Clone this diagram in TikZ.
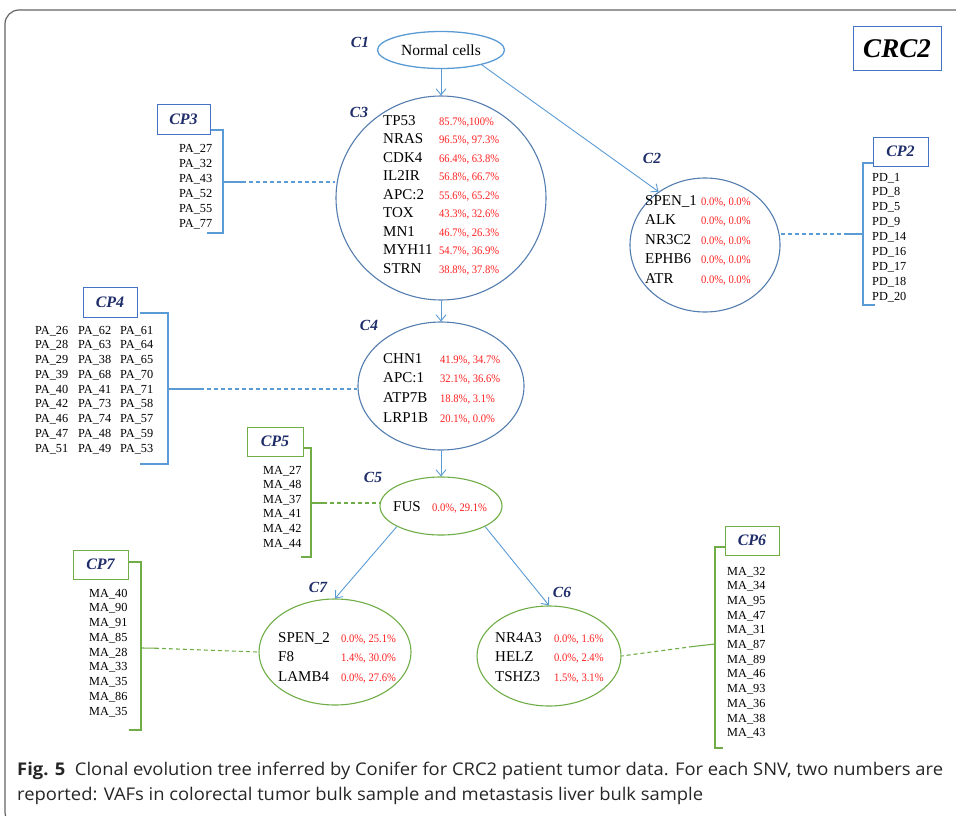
\documentclass[tikz,border=0pt]{standalone}
\usepackage{fontspec}
\setmainfont{Liberation Serif}
\newfontfamily\capfont[FakeStretch=1.05]{Open Sans}
\newfontfamily\numfont[FakeStretch=0.92]{Liberation Serif}
\usetikzlibrary{shapes.geometric,arrows.meta}

\definecolor{linkblue}{RGB}{91,155,213}
\definecolor{ringblue}{RGB}{84,125,175}
\definecolor{boxblue}{RGB}{68,114,196}
\definecolor{clonegreen}{RGB}{112,173,71}
\definecolor{labelnavy}{RGB}{31,45,105}
\definecolor{vafred}{RGB}{255,30,30}
\definecolor{framegray}{RGB}{100,100,100}

% VAF pair in a clone circle
\newcommand{\vaf}[1]{{\numfont\fontsize{11.5}{12}\selectfont\color{vafred}#1}}

\tikzset{
  link/.style={draw=linkblue, line width=0.9pt, -{Straight Barb[length=6pt,width=10pt]}},
  bluering/.style={ellipse, draw=ringblue, line width=1.1pt, inner sep=0pt},
  greenring/.style={ellipse, draw=clonegreen, line width=1.1pt, inner sep=0pt},
  clabel/.style={font=\fontsize{15.5}{16}\selectfont\bfseries\itshape, text=labelnavy, inner sep=0pt},
  cpbox/.style={draw=#1, line width=1pt, minimum width=54pt, minimum height=29pt, inner sep=0pt,
    font=\fontsize{16}{17}\selectfont\bfseries\itshape, text=labelnavy},
  genes/.style={font=\fontsize{15}{#1}\selectfont, inner sep=0pt, anchor=base west},
  samples/.style={font=\fontsize{12.3}{#1}\selectfont, inner sep=0pt, anchor=base west},
  bracketblue/.style={draw=linkblue, line width=1.1pt},
  bracketgreen/.style={draw=clonegreen, line width=1.1pt},
  dashblue/.style={draw=linkblue, line width=1.1pt, dash pattern=on 4pt off 3pt},
  dashgreen/.style={draw=clonegreen, line width=1.1pt, dash pattern=on 4pt off 3pt},
  captext/.style={anchor=base west, inner sep=0pt, text=black!85, font=\capfont\fontsize{17.5}{20}\selectfont},
}

\begin{document}
\begin{tikzpicture}[x=1pt,y=-1pt]
\useasboundingbox (0,0) rectangle (956,816);

% outer frame
\draw[framegray, line width=1.2pt, rounded corners=14pt] (975,10) -- (5,10) -- (5,826) -- (60,826);

% title box
\node[draw=boxblue, line width=1pt, minimum width=88pt, minimum height=44pt, inner sep=0pt,
  font=\fontsize{27}{28}\selectfont\bfseries\itshape] (crc) at (897,49) {CRC2};

% clones
\node[ellipse, draw=linkblue, line width=1.3pt, minimum width=127pt, minimum height=37pt, inner sep=0pt,
  font=\fontsize{15.5}{16}\selectfont] (C1) at (441,50) {Normal cells};
\node[bluering, minimum width=210pt, minimum height=204pt] (C3) at (441,198) {};
\node[bluering, minimum width=150pt, minimum height=134pt] (C2) at (705,245) {};
\node[bluering, minimum width=166pt, minimum height=128pt] (C4) at (441,386) {};
\node[greenring, minimum width=122pt, minimum height=58pt] (C5) at (441,506) {};
\node[greenring, minimum width=152pt, minimum height=106pt] (C7) at (335,652) {};
\node[greenring, minimum width=144pt, minimum height=100pt] (C6) at (549,656) {};

% clone labels
\node[clabel] (L1) at (360,42) {C1};
\node[clabel] (L3) at (359,112) {C3};
\node[clabel] (L2) at (652,158) {C2};
\node[clabel] (L4) at (369,325) {C4};
\node[clabel] (L5) at (373,477) {C5};
\node[clabel] (L7) at (318,587) {C7};
\node[clabel] (L6) at (562,592) {C6};

% mutations of each clone
\node[genes=18.5] (G3) at (383,125) {\begin{tabular}[t]{@{}p{56pt}@{}l@{}}
TP53 & \vaf{85.7\%,100\%}\\
NRAS & \vaf{96.5\%, 97.3\%}\\
CDK4 & \vaf{66.4\%, 63.8\%}\\
IL2IR & \vaf{56.8\%, 66.7\%}\\
APC:2 & \vaf{55.6\%, 65.2\%}\\
TOX & \vaf{43.3\%, 32.6\%}\\
MN1 & \vaf{46.7\%, 26.3\%}\\
MYH11 & \vaf{54.7\%, 36.9\%}\\
STRN & \vaf{38.8\%, 37.8\%}
\end{tabular}};

\node[genes=19.5] (G2) at (645,205) {\begin{tabular}[t]{@{}p{56pt}@{}l@{}}
SPEN\_1 & \vaf{0.0\%, 0.0\%}\\
ALK & \vaf{0.0\%, 0.0\%}\\
NR3C2 & \vaf{0.0\%, 0.0\%}\\
EPHB6 & \vaf{0.0\%, 0.0\%}\\
ATR & \vaf{0.0\%, 0.0\%}
\end{tabular}};

\node[genes=19.7] (G4) at (383,363) {\begin{tabular}[t]{@{}p{57pt}@{}l@{}}
CHN1 & \vaf{41.9\%, 34.7\%}\\
APC:1 & \vaf{32.1\%, 36.6\%}\\
ATP7B & \vaf{18.8\%, 3.1\%}\\
LRP1B & \vaf{20.1\%, 0.0\%}
\end{tabular}};

\node[genes=19.5] (G5) at (393,511) {\begin{tabular}[t]{@{}p{39pt}@{}l@{}}
FUS & \vaf{0.0\%, 29.1\%}
\end{tabular}};

\node[genes=19.5] (G7) at (278,642) {\begin{tabular}[t]{@{}p{63pt}@{}l@{}}
SPEN\_2 & \vaf{0.0\%, 25.1\%}\\
F8 & \vaf{1.4\%, 30.0\%}\\
LAMB4 & \vaf{0.0\%, 27.6\%}
\end{tabular}};

\node[genes=19.5] (G6) at (495,642) {\begin{tabular}[t]{@{}p{59pt}@{}l@{}}
NR4A3 & \vaf{0.0\%, 1.6\%}\\
HELZ & \vaf{0.0\%, 2.4\%}\\
TSHZ3 & \vaf{1.5\%, 3.1\%}
\end{tabular}};

% tree edges
\draw[link] (C1.south) -- (C3.north);
\draw[link] (C1.-20) -- (C2.131);
\draw[link] (C3.south) -- (C4.north);
\draw[link] (C4.south) -- (C5.north);
\draw[link] (C5.205) -- (C7.north);
\draw[link] (C5.335) -- (C6.north);

% sample groups
\node[cpbox=boxblue, minimum width=53pt, minimum height=30pt] (P3) at (183.5,119) {CP3};
\node[cpbox=boxblue, minimum width=55pt] (P2) at (900.5,151.5) {CP2};
\node[cpbox=boxblue, minimum height=30pt] (P4) at (110,302) {CP4};
\node[cpbox=clonegreen, minimum width=56pt] (P5) at (275,441.5) {CP5};
\node[cpbox=clonegreen, minimum width=55pt] (P7) at (100.5,564.5) {CP7};
\node[cpbox=clonegreen] (P6) at (752,540.5) {CP6};

\node[samples=15] (S3) at (179,152) {\begin{tabular}[t]{@{}l@{}}
PA\_27\\ PA\_32\\ PA\_43\\ PA\_52\\ PA\_55\\ PA\_77
\end{tabular}};

\node[samples=14.9] (S2) at (872,181) {\begin{tabular}[t]{@{}l@{}}
PD\_1\\ PD\_8\\ PD\_5\\ PD\_9\\ PD\_14\\ PD\_16\\ PD\_17\\ PD\_18\\ PD\_20
\end{tabular}};

\node[samples=14.75] (S4) at (35,334) {\begin{tabular}[t]{@{}p{43pt}@{}p{42pt}@{}l@{}}
PA\_26 & PA\_62 & PA\_61\\
PA\_28 & PA\_63 & PA\_64\\
PA\_29 & PA\_38 & PA\_65\\
PA\_39 & PA\_68 & PA\_70\\
PA\_40 & PA\_41 & PA\_71\\
PA\_42 & PA\_73 & PA\_58\\
PA\_46 & PA\_74 & PA\_57\\
PA\_47 & PA\_48 & PA\_59\\
PA\_51 & PA\_49 & PA\_53
\end{tabular}};

\node[samples=14.6] (S5) at (263,474) {\begin{tabular}[t]{@{}l@{}}
MA\_27\\ MA\_48\\ MA\_37\\ MA\_41\\ MA\_42\\ MA\_44
\end{tabular}};

\node[samples=14.75] (S7) at (89,597) {\begin{tabular}[t]{@{}l@{}}
MA\_40\\ MA\_90\\ MA\_91\\ MA\_85\\ MA\_28\\ MA\_33\\ MA\_35\\ MA\_86\\ MA\_35
\end{tabular}};

\node[samples=14.7] (S6) at (727,575) {\begin{tabular}[t]{@{}l@{}}
MA\_32\\ MA\_34\\ MA\_95\\ MA\_47\\ MA\_31\\ MA\_87\\ MA\_89\\ MA\_46\\ MA\_93\\ MA\_36\\ MA\_38\\ MA\_43
\end{tabular}};

% brackets round the sample lists
\draw[bracketblue] (P3.east |- 0,130) -- (223,130) -- (223,233) -- (207,233);
\draw[bracketblue] (P2.west |- 0,163) -- (863,163) -- (863,305) -- (875,305);
\draw[bracketblue] (140,313) -- (168,313) -- (168,464) -- (140,464);
\draw[bracketgreen] (P5.east |- 0,448) -- (311,448) -- (311,557) -- (301,557);
\draw[bracketgreen] (P7.east |- 0,562) -- (141,562) -- (141,730) -- (129,730);
\draw[bracketgreen] (P6.west |- 0,547) -- (715,547) -- (715,748) -- (723,748);

% links from sample groups to clones
\coordinate (k3) at (223,182);
\coordinate (k3d) at (242,182);
\draw[bracketblue] (k3) -- (k3d);
\draw[dashblue] (k3d) -- (k3d -| C3.west);

\coordinate (k2) at (863,234);
\coordinate (k2d) at (848,234);
\draw[bracketblue] (k2) -- (k2d);
\draw[dashblue] (k2d) -- (k2d -| C2.east);

\coordinate (k4) at (168,389);
\coordinate (k4d) at (200,389);
\draw[bracketblue] (k4) -- (k4d);
\draw[dashblue] (k4d) -- (k4d -| C4.west);

\coordinate (k5) at (311,503);
\coordinate (k5d) at (323,503);
\draw[bracketgreen] (k5) -- (k5d);
\draw[dashgreen] (k5d) -- (k5d -| C5.west);

\coordinate (k7) at (141,648);
\coordinate (k7d) at (155,648.2);
\draw[bracketgreen] (k7) -- (k7d);
\draw[dashgreen] (k7d) -- (C7.west);

\coordinate (k6) at (715,644);
\coordinate (k6d) at (693,646.5);
\draw[bracketgreen] (k6) -- (k6d);
\draw[dashgreen] (k6d) -- (C6.east);

% caption
\node[captext] (cap1) at (17,775)
  {\textbf{Fig. 5}\hspace{0.55em}Clonal evolution tree inferred by Conifer for CRC2 patient tumor data. For each SNV, two numbers are};
\node[captext] (cap2) at (17,800)
  {reported: VAFs in colorectal tumor bulk sample and metastasis liver bulk sample};
\end{tikzpicture}
\end{document}
